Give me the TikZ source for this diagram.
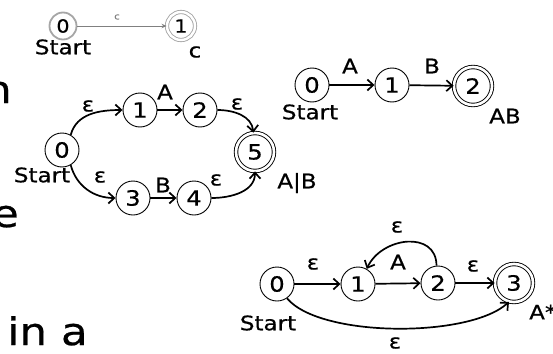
\documentclass[tikz,border=0pt]{standalone}
\usepackage{fontspec}
\setmainfont{DejaVu Sans}[FakeStretch=1.15, FakeBold=0.6]
\usetikzlibrary{arrows.meta}

\tikzset{
  st/.style={circle, draw, line width=0.9pt, minimum size=34pt, inner sep=0pt,
             font=\fontsize{21}{21}\selectfont},
  acc/.style={st, minimum size=38pt, double, double distance=2.6pt},
  gst/.style={circle, draw=gray!70, line width=1.8pt, minimum size=27pt, inner sep=0pt,
              font=\fontsize{18}{18}\selectfont},
  gacc/.style={gst, line width=0.9pt, minimum size=28pt, double, double distance=2.4pt},
  ed/.style={line width=1.7pt, -{Straight Barb[length=6pt,width=11pt,line width=1.7pt]}},
  ged/.style={draw=gray, line width=0.7pt, -{Stealth[length=5pt,width=4.5pt]}},
  lbl/.style={inner sep=0pt, font=\fontsize{20}{20}\selectfont},
  captext/.style={inner sep=0pt, font=\fontsize{20}{20}\selectfont},
  big/.style={inner sep=0pt, font=\fontsize{38}{38}\selectfont},
}

\begin{document}
\begin{tikzpicture}
\useasboundingbox (0,0) rectangle (553pt,-353pt);
\clip (0,0) rectangle (553pt,-353pt);
\begin{scope}[x=1pt,y=1pt]

% fragments of the slide text on the left
\node[big, anchor=base east] (wn) at (12,-103) {n};
\node[big, anchor=base east] (we) at (19,-227) {e};
\node[big, anchor=base east] (wa) at (88,-345) {A in a};

% automaton for c
\node[gst] (t0) at (63,-26) {0};
\node[gacc] (t1) at (181,-26) {1};
\draw[ged] (t0) -- (t1);
\node[inner sep=0pt, text=gray, font=\fontsize{9}{9}\selectfont] (tc) at (117,-17) {c};
\node[captext] (tstart) at (63,-47) {Start};
\node[captext] (tname) at (195,-52) {c};

% automaton for A|B
\node[st] (m0) at (62,-150) {0};
\node[st] (m1) at (140,-110) {1};
\node[st] (m2) at (200,-110) {2};
\node[acc] (m5) at (255,-152) {5};
\node[st] (m3) at (133,-198) {3};
\node[st] (m4) at (194,-198) {4};
\draw[ed] (m0.60) to[out=75,in=180] (m1);
\draw[ed] (m1) -- (m2);
\draw[ed] (m2) to[out=0,in=95] (m5);
\draw[ed] (m0.-60) to[out=-75,in=180] (m3);
\draw[ed] (m3) -- (m4);
\draw[ed] (m4) to[out=0,in=-90] (m5);
\node[lbl] (me1) at (88,-106) {ε};
\node[lbl] (mA) at (165,-92) {A};
\node[lbl] (me2) at (237,-104) {ε};
\node[lbl] (me3) at (100,-177) {ε};
\node[lbl] (mB) at (163,-185) {B};
\node[lbl] (me4) at (216,-180) {ε};
\node[captext] (mstart) at (42,-175) {Start};
\node[captext] (mname) at (297,-183) {A|B};

% automaton for AB
\node[st] (r0) at (312,-85) {0};
\node[st] (r1) at (392,-85) {1};
\node[acc] (r2) at (473,-86) {2};
\draw[ed] (r0) -- (r1);
\draw[ed] (r1) -- (r2);
\node[lbl] (rA) at (350,-66) {A};
\node[lbl] (rB) at (432,-66) {B};
\node[captext] (rstart) at (310,-112) {Start};
\node[captext] (rname) at (505,-116) {AB};

% automaton for A*
\node[st] (b0) at (277,-284) {0};
\node[st] (b1) at (358,-284) {1};
\node[st] (b2) at (438,-283) {2};
\node[acc] (b3) at (514,-283) {3};
\draw[ed] (b0) -- (b1);
\draw[ed] (b1) -- (b2);
\draw[ed] (b2) -- (b3);
\draw[ed] (b2.95) to[out=90,in=65,looseness=1.3] (b1.60);
\draw[ed] (b0.-55) .. controls (320,-338) and (470,-338) .. (b3.-105);
\node[lbl] (be1) at (313,-264) {ε};
\node[lbl] (bA) at (398,-262) {A};
\node[lbl] (be2) at (473,-266) {ε};
\node[lbl] (be3) at (397,-227) {ε};
\node[lbl] (be4) at (395,-343) {ε};
\node[captext] (bstart) at (268,-323) {Start};
\node[captext, anchor=west] (bname) at (529,-312) {A*};

\end{scope}
\end{tikzpicture}
\end{document}
